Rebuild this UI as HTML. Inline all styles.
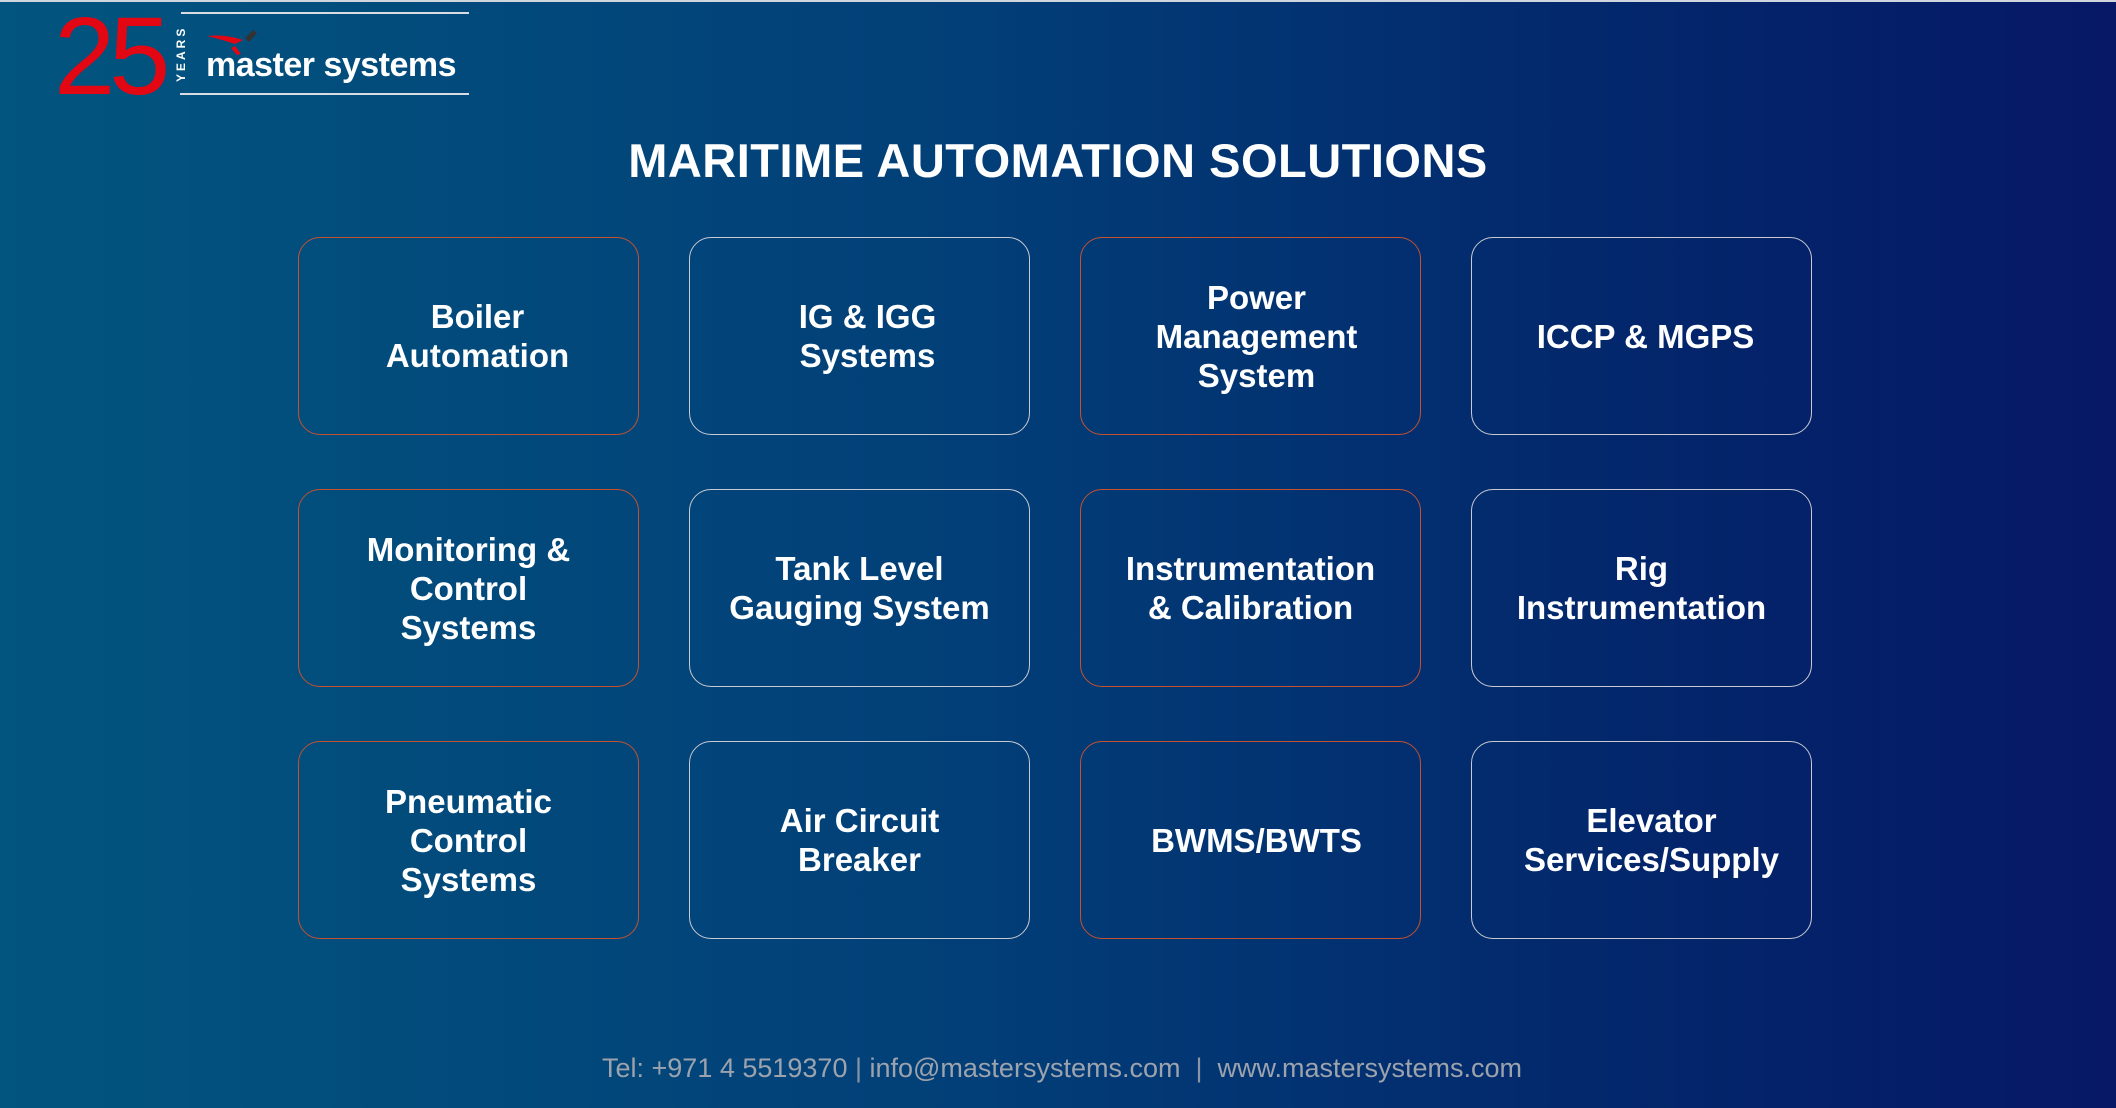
<!DOCTYPE html>
<html><head><meta charset="utf-8"><style>
html,body{margin:0;padding:0}
body{width:2116px;height:1108px;overflow:hidden;position:relative;font-family:"Liberation Sans",sans-serif;
background:linear-gradient(90deg,#02557f 0%,#023f78 45%,#03286c 75%,#061866 100%);}
.topline{position:absolute;left:0;top:0;width:2116px;height:2px;background:#cfd6de}
.box{position:absolute;width:341px;height:198px;border:1.5px solid #c9c9d0;border-radius:22px;display:flex;align-items:center;justify-content:center;text-align:center;color:#fff;font-weight:bold;font-size:33px;line-height:39px;box-sizing:border-box}
.o{border-color:#c5512f}
h1{position:absolute;left:0;width:2116px;top:133px;margin:0;text-align:center;color:#fff;font-size:47px;font-weight:bold;letter-spacing:0.5px}
.foot{position:absolute;left:602px;top:1053px;color:#9da3ad;font-size:27px;white-space:nowrap}
</style></head><body>
<div class="topline"></div>
<div style="position:absolute;left:54px;top:2px;color:#e30613;font-size:110px;line-height:110px;letter-spacing:-6px;font-family:'Liberation Sans Narrow','Liberation Sans',sans-serif">25</div>
<div style="position:absolute;left:181px;top:12px;width:288px;height:2px;background:#d8dde3"></div>
<div style="position:absolute;left:180px;top:93px;width:289px;height:2px;background:#d8dde3"></div>
<div style="position:absolute;left:174px;top:82px;transform:rotate(-90deg);transform-origin:left top;color:#fff;font-size:12px;font-weight:bold;letter-spacing:3px">YEARS</div>
<svg style="position:absolute;left:205px;top:24px" width="70" height="32"><path d="M2 12 Q20 10 38 16 L30 20 Q15 15 2 12Z" fill="#e30613"/><path d="M40 14 L48 6 L52 9 L44 18Z" fill="#333"/><path d="M30 22 L36 30 L32 31 L26 24Z" fill="#e30613"/></svg>
<div style="position:absolute;left:206px;top:46px;color:#fff;font-size:34px;font-weight:bold;letter-spacing:-0.5px">master systems</div>
<h1>MARITIME AUTOMATION SOLUTIONS</h1>

<div class="box o" style="left:298px;top:237px;padding-left:18px">Boiler<br>Automation</div>
<div class="box" style="left:689px;top:237px;padding-left:16px">IG &amp; IGG<br>Systems</div>
<div class="box o" style="left:1080px;top:237px;padding-left:12px">Power<br>Management<br>System</div>
<div class="box" style="left:1471px;top:237px;padding-left:8px">ICCP &amp; MGPS</div>

<div class="box o" style="left:298px;top:489px">Monitoring &amp;<br>Control<br>Systems</div>
<div class="box" style="left:689px;top:489px">Tank Level<br>Gauging System</div>
<div class="box o" style="left:1080px;top:489px">Instrumentation<br>&amp; Calibration</div>
<div class="box" style="left:1471px;top:489px">Rig<br>Instrumentation</div>

<div class="box o" style="left:298px;top:741px">Pneumatic<br>Control<br>Systems</div>
<div class="box" style="left:689px;top:741px">Air Circuit<br>Breaker</div>
<div class="box o" style="left:1080px;top:741px;padding-left:12px">BWMS/BWTS</div>
<div class="box" style="left:1471px;top:741px;padding-left:20px">Elevator<br>Services/Supply</div>

<div class="foot">Tel: +971 4 5519370 <span style="color:#8a95a5">|</span> info@mastersystems.com &nbsp;<span style="color:#8a95a5">|</span>&nbsp; www.mastersystems.com</div>
</body></html>
